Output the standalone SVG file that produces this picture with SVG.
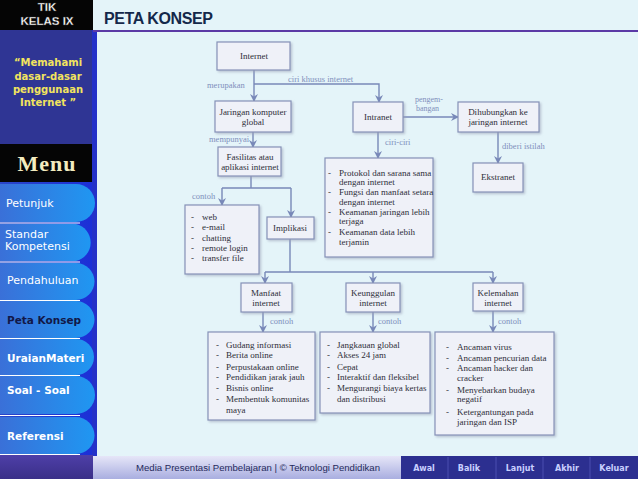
<svg xmlns="http://www.w3.org/2000/svg" width="638" height="479" viewBox="0 0 638 479">
<defs>
<style>
.box{fill:#eff1f8;stroke:#8592b8;stroke-width:1.2;filter:url(#sh)}
.t{font-family:"Liberation Serif",serif;font-size:9px;fill:#2e2e38}
.tc{font-family:"Liberation Serif",serif;font-size:9px;fill:#2e2e38;text-anchor:middle}
.lb{font-family:"Liberation Serif",serif;font-size:8.5px;fill:#7f8fbc}
.cn{fill:none;stroke:#7888b8;stroke-width:1.4}
.arr{marker-end:url(#ah)}
.mb{font-family:"DejaVu Sans",sans-serif;font-size:11px;fill:#ffffff}
.bb{font-family:"DejaVu Sans",sans-serif;font-size:8px;font-weight:bold;fill:#c9d0ff;text-anchor:middle}
.q{font-family:"DejaVu Sans",sans-serif;font-size:10px;font-weight:bold;fill:#f2e45e;text-anchor:middle}
</style>
<filter id="sh" x="-10%" y="-10%" width="130%" height="130%">
<feDropShadow dx="1.5" dy="1.5" stdDeviation="0.8" flood-color="#9aa0b8" flood-opacity="0.6"/>
</filter>
<marker id="ah" markerWidth="8" markerHeight="8" refX="7" refY="4" orient="auto" markerUnits="userSpaceOnUse">
<path d="M0,0 L8,4 L0,8 L2.5,4 z" fill="#7888b8"/>
</marker>
<linearGradient id="btn" x1="0" y1="0" x2="1" y2="0">
<stop offset="0" stop-color="#3a70d8"/>
<stop offset="1" stop-color="#1f97f2"/>
</linearGradient>
<linearGradient id="side" x1="0" y1="0" x2="1" y2="0">
<stop offset="0" stop-color="#2a46c8"/>
<stop offset="1" stop-color="#1b2ed8"/>
</linearGradient>
<linearGradient id="foot" x1="0" y1="0" x2="0" y2="1">
<stop offset="0" stop-color="#e6e6f8"/>
<stop offset="1" stop-color="#a9aee0"/>
</linearGradient>
<linearGradient id="purp" x1="0" y1="0" x2="0" y2="1">
<stop offset="0" stop-color="#4e3fa8"/>
<stop offset="1" stop-color="#3a2f88"/>
</linearGradient>
</defs>

<!-- backgrounds -->
<rect x="0" y="0" width="638" height="479" fill="#e4f4f9"/>
<rect x="0" y="0" width="93" height="30" fill="#050505"/>
<rect x="0" y="30" width="93" height="114" fill="#2f3594"/>
<rect x="0" y="144" width="93" height="38" fill="#050505"/>
<rect x="0" y="182" width="97" height="274" fill="url(#side)"/>
<rect x="92" y="30" width="5" height="426" fill="#2431c8"/>
<rect x="0" y="455" width="93" height="24" fill="url(#purp)"/>
<line x1="93" y1="31" x2="638" y2="31" stroke="#5b3aa6" stroke-width="2"/>

<!-- sidebar header -->
<g id="header-tik">
<text x="47" y="11" font-family="Liberation Sans,sans-serif" font-size="11.5" font-weight="bold" fill="#ffffff" text-anchor="middle" stroke="#333" stroke-width="0.3">TIK</text>
<text x="47" y="24.5" font-family="Liberation Sans,sans-serif" font-size="11.5" font-weight="bold" fill="#ffffff" text-anchor="middle" stroke="#333" stroke-width="0.3">KELAS IX</text>
</g>
<g id="quote">
<text class="q" x="48" y="66">“Memahami</text>
<text class="q" x="48" y="80">dasar-dasar</text>
<text class="q" x="48" y="93">penggunaan</text>
<text class="q" x="48" y="106">Internet ”</text>
</g>
<g id="menu-title">
<text x="47" y="171" font-family="Liberation Serif,serif" font-size="22" font-weight="bold" fill="#f3ecc0" text-anchor="middle" letter-spacing="1">Menu</text>
</g>

<!-- menu buttons -->
<g id="btn-petunjuk">
<path d="M0,184 H76 A19,19 0 0 1 76,222 H0 Z" fill="url(#btn)"/>
<text class="mb" x="6" y="207">Petunjuk</text>
</g>
<line x1="0" y1="223" x2="80" y2="223" stroke="#ffffff" stroke-width="1"/>
<g id="btn-standar">
<path d="M0,224 H76 A19,19 0 0 1 76,261 H0 Z" fill="url(#btn)"/>
<text class="mb" x="5" y="238">Standar</text>
<text class="mb" x="5" y="250">Kompetensi</text>
</g>
<line x1="0" y1="262" x2="80" y2="262" stroke="#ffffff" stroke-width="1"/>
<g id="btn-pendahuluan">
<path d="M0,263 H76 A18.5,18.5 0 0 1 76,300 H0 Z" fill="url(#btn)"/>
<text class="mb" x="7" y="284">Pendahuluan</text>
</g>
<line x1="0" y1="300.5" x2="80" y2="300.5" stroke="#ffffff" stroke-width="1"/>
<g id="btn-peta">
<path d="M0,301 H76 A18.5,18.5 0 0 1 76,338 H0 Z" fill="url(#btn)"/>
<text class="mb" x="7" y="324" font-weight="bold" style="fill:#121848;font-size:10.5px">Peta Konsep</text>
</g>
<line x1="0" y1="338.5" x2="80" y2="338.5" stroke="#ffffff" stroke-width="1"/>
<g id="btn-uraian">
<path d="M0,339 H76 A18,18 0 0 1 76,375 H0 Z" fill="url(#btn)"/>
<text class="mb" x="7" y="362" font-weight="bold" style="font-size:10.5px">UraianMateri</text>
</g>
<line x1="0" y1="375.5" x2="80" y2="375.5" stroke="#ffffff" stroke-width="1"/>
<g id="btn-soal">
<path d="M0,376 H76 A19,19 0 0 1 76,414 H0 Z" fill="url(#btn)"/>
<text class="mb" x="7" y="394" font-weight="bold" style="font-size:10.5px">Soal - Soal</text>
</g>
<line x1="0" y1="415.5" x2="80" y2="415.5" stroke="#ffffff" stroke-width="1"/>
<g id="btn-referensi">
<path d="M0,417 H76 A18.5,18.5 0 0 1 76,454 H0 Z" fill="url(#btn)"/>
<text class="mb" x="7" y="440" font-weight="bold" style="font-size:10.5px">Referensi</text>
</g>
<line x1="0" y1="454.5" x2="80" y2="454.5" stroke="#ffffff" stroke-width="1"/>

<!-- title -->
<text x="104" y="24" font-family="Liberation Sans,sans-serif" font-size="16" font-weight="bold" fill="#14284a" letter-spacing="-0.4">PETA KONSEP</text>

<!-- footer -->
<g id="footer">
<rect x="93" y="456" width="308" height="23" fill="url(#foot)"/>
<text x="258" y="471" font-family="Liberation Sans,sans-serif" font-size="9.6" fill="#262a5c" text-anchor="middle">Media Presentasi Pembelajaran | © Teknologi Pendidikan</text>
<rect x="401" y="456" width="237" height="23" fill="#2c2f90"/>
<g stroke="#4a4fb0" stroke-width="1">
<line x1="448" y1="457" x2="448" y2="479"/>
<line x1="496" y1="457" x2="496" y2="479"/>
<line x1="543" y1="457" x2="543" y2="479"/>
<line x1="590" y1="457" x2="590" y2="479"/>
</g>
<text class="bb" x="424" y="471">Awal</text>
<text class="bb" x="469" y="471">Balik</text>
<text class="bb" x="520" y="471">Lanjut</text>
<text class="bb" x="567" y="471">Akhir</text>
<text class="bb" x="614" y="471">Keluar</text>
</g>

<!-- connectors -->
<g id="connectors">
<path class="cn arr" d="M254,70 V101"/>
<path class="cn arr" d="M254,84 H379 V102"/>
<path class="cn arr" d="M253,132 V147"/>
<path class="cn arr" d="M403,117 H458"/>
<path class="cn arr" d="M378,132 V158"/>
<path class="cn arr" d="M498,132 V163"/>
<path class="cn" d="M251,176 V188 M222,188 H291"/>
<path class="cn arr" d="M222,188 V205"/>
<path class="cn arr" d="M291,188 V217"/>
<path class="cn" d="M290,239 V272 M265,272 H493"/>
<path class="cn arr" d="M265,272 V283"/>
<path class="cn arr" d="M373,272 V283"/>
<path class="cn arr" d="M493,272 V283"/>
<path class="cn arr" d="M263,312 V332"/>
<path class="cn arr" d="M373,312 V332"/>
<path class="cn arr" d="M493,311 V332"/>
<text class="lb" x="207" y="88">merupakan</text>
<text class="lb" x="288" y="82">ciri  khusus  internet</text>
<text class="lb" x="209" y="142">mempunyai</text>
<text class="lb" x="415" y="102" style="font-size:8px">pengem-</text>
<text class="lb" x="416" y="111" style="font-size:8px">bangan</text>
<text class="lb" x="385" y="145">ciri-ciri</text>
<text class="lb" x="502" y="149">diberi istilah</text>
<text class="lb" x="192" y="199">contoh</text>
<text class="lb" x="270" y="324">contoh</text>
<text class="lb" x="378" y="324">contoh</text>
<text class="lb" x="498" y="324">contoh</text>
</g>

<!-- nodes -->
<g id="n-internet">
<rect class="box" x="217" y="42" width="73" height="28"/>
<text class="tc" x="254" y="59">Internet</text>
</g>
<g id="n-jaringan">
<rect class="box" x="215" y="101" width="76" height="31"/>
<text class="tc" x="253" y="115">Jaringan komputer</text>
<text class="tc" x="253" y="125">global</text>
</g>
<g id="n-intranet">
<rect class="box" x="353" y="102" width="50" height="30"/>
<text class="tc" x="378" y="120">Intranet</text>
</g>
<g id="n-dihubungkan">
<rect class="box" x="458" y="102" width="81" height="30"/>
<text class="tc" x="498" y="115">Dihubungkan ke</text>
<text class="tc" x="498" y="125">jaringan internet</text>
</g>
<g id="n-ekstranet">
<rect class="box" x="473" y="163" width="50" height="29"/>
<text class="tc" x="498" y="180">Ekstranet</text>
</g>
<g id="n-ciri">
<rect class="box" x="325" y="158" width="108" height="99"/>
<text class="t" x="328" y="176">-</text><text class="t" x="339" y="176">Protokol dan sarana sama</text>
<text class="t" x="339" y="185">dengan internet</text>
<text class="t" x="328" y="195">-</text><text class="t" x="339" y="195">Fungsi dan manfaat setara</text>
<text class="t" x="339" y="205">dengan internet</text>
<text class="t" x="328" y="215">-</text><text class="t" x="339" y="215">Keamanan jaringan lebih</text>
<text class="t" x="339" y="224">terjaga</text>
<text class="t" x="328" y="235">-</text><text class="t" x="339" y="235">Keamanan data lebih</text>
<text class="t" x="339" y="245">terjamin</text>
</g>
<g id="n-fasilitas">
<rect class="box" x="218" y="147" width="63" height="29"/>
<text class="tc" x="250" y="160">Fasilitas atau</text>
<text class="tc" x="250" y="170">aplikasi internet</text>
</g>
<g id="n-contoh-aplikasi">
<rect class="box" x="185" y="205" width="74" height="69"/>
<text class="t" x="191" y="220">-</text><text class="t" x="202" y="220">web</text>
<text class="t" x="191" y="230">-</text><text class="t" x="202" y="230">e-mail</text>
<text class="t" x="191" y="241">-</text><text class="t" x="202" y="241">chatting</text>
<text class="t" x="191" y="251">-</text><text class="t" x="202" y="251">remote login</text>
<text class="t" x="191" y="261">-</text><text class="t" x="202" y="261">transfer file</text>
</g>
<g id="n-implikasi">
<rect class="box" x="267" y="217" width="47" height="22"/>
<text class="tc" x="290" y="231">Implikasi</text>
</g>
<g id="n-manfaat">
<rect class="box" x="241" y="283" width="51" height="29"/>
<text class="tc" x="266" y="296">Manfaat</text>
<text class="tc" x="266" y="306">internet</text>
</g>
<g id="n-keunggulan">
<rect class="box" x="346" y="283" width="54" height="29"/>
<text class="tc" x="373" y="296">Keunggulan</text>
<text class="tc" x="373" y="306">internet</text>
</g>
<g id="n-kelemahan">
<rect class="box" x="473" y="283" width="50" height="28"/>
<text class="tc" x="498" y="296">Kelemahan</text>
<text class="tc" x="498" y="306">internet</text>
</g>
<g id="n-list-manfaat">
<rect class="box" x="208" y="332" width="107" height="88"/>
<text class="t" x="216" y="348">-</text><text class="t" x="226" y="348">Gudang informasi</text>
<text class="t" x="216" y="358">-</text><text class="t" x="226" y="358">Berita online</text>
<text class="t" x="216" y="370">-</text><text class="t" x="226" y="370">Perpustakaan online</text>
<text class="t" x="216" y="380">-</text><text class="t" x="226" y="380">Pendidikan jarak jauh</text>
<text class="t" x="216" y="391">-</text><text class="t" x="226" y="391">Bisnis online</text>
<text class="t" x="216" y="402">-</text><text class="t" x="226" y="402">Membentuk  komunitas</text>
<text class="t" x="226" y="413">maya</text>
</g>
<g id="n-list-keunggulan">
<rect class="box" x="320" y="332" width="110" height="81"/>
<text class="t" x="327" y="348">-</text><text class="t" x="337" y="348">Jangkauan global</text>
<text class="t" x="327" y="358">-</text><text class="t" x="337" y="358">Akses 24 jam</text>
<text class="t" x="327" y="370">-</text><text class="t" x="337" y="370">Cepat</text>
<text class="t" x="327" y="380">-</text><text class="t" x="337" y="380">Interaktif dan fleksibel</text>
<text class="t" x="327" y="391">-</text><text class="t" x="337" y="391">Mengurangi biaya kertas</text>
<text class="t" x="337" y="402">dan distribusi</text>
</g>
<g id="n-list-kelemahan">
<rect class="box" x="435" y="332" width="119" height="103"/>
<text class="t" x="446" y="350">-</text><text class="t" x="457" y="350">Ancaman virus</text>
<text class="t" x="446" y="361">-</text><text class="t" x="457" y="361">Ancaman pencurian data</text>
<text class="t" x="446" y="371">-</text><text class="t" x="457" y="371">Ancaman hacker dan</text>
<text class="t" x="457" y="381">cracker</text>
<text class="t" x="446" y="393">-</text><text class="t" x="457" y="393">Menyebarkan  budaya</text>
<text class="t" x="457" y="402">negatif</text>
<text class="t" x="446" y="415">-</text><text class="t" x="457" y="415">Ketergantungan pada</text>
<text class="t" x="457" y="425">jaringan dan ISP</text>
</g>
</svg>
